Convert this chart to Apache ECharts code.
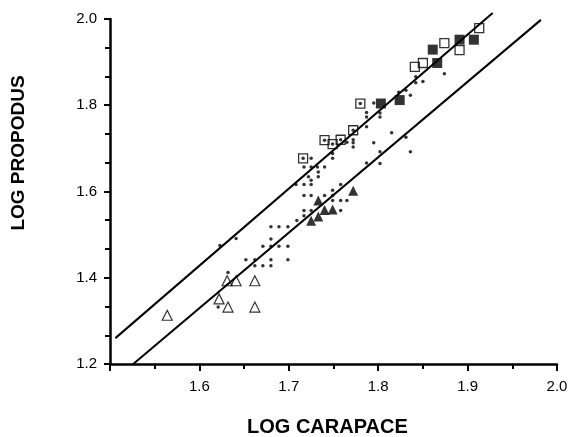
<!DOCTYPE html>
<html>
<head>
<meta charset="utf-8">
<script src="https://cdn.jsdelivr.net/npm/echarts@6/dist/echarts.min.js"></script>
<style>html,body{margin:0;padding:0;background:#fff;}#c{width:574px;height:437px;}</style>
</head>
<body>
<div id="c"></div>
<script>
// Tick labels
const xTickLabels = ['1.6', '1.7', '1.8', '1.9', '2.0'];
const yTickLabels = ['1.2', '1.4', '1.6', '1.8', '2.0'];
// Axis titles
const xTitle = 'LOG CARAPACE';
const yTitle = 'LOG PROPODUS';

// Regression lines (endpoints, data units)
const upperLine = [[1.506, 1.260], [1.928, 2.014]];
const lowerLine = [[1.526, 1.200], [1.982, 1.998]];

// Open squares
const openSquares = [[1.924, 2.004], [1.913, 1.979], [1.874, 1.944], [1.891, 1.928], [1.850, 1.898], [1.841, 1.889]];
// Open squares with a centre dot
const dottedSquares = [[1.780, 1.804], [1.772, 1.742], [1.758, 1.720], [1.749, 1.710], [1.740, 1.719], [1.716, 1.677]];
// Filled squares
const filledSquares = [[1.907, 1.952], [1.891, 1.952], [1.861, 1.929], [1.866, 1.898], [1.824, 1.812], [1.803, 1.804]];
// Filled triangles
const filledTriangles = [[1.772, 1.602], [1.733, 1.579], [1.740, 1.557], [1.749, 1.558], [1.733, 1.542], [1.725, 1.532]];
// Open triangles
const openTriangles = [[1.564, 1.313], [1.631, 1.393], [1.641, 1.393], [1.662, 1.393], [1.622, 1.351], [1.632, 1.332], [1.662, 1.332]];
// Small dots
const dots = [
  [1.874, 1.873], [1.842, 1.866], [1.850, 1.855], [1.842, 1.852], [1.831, 1.835], [1.823, 1.830], [1.836, 1.823],
  [1.795, 1.805], [1.787, 1.783], [1.787, 1.773], [1.802, 1.782], [1.802, 1.773], [1.787, 1.750],
  [1.772, 1.720], [1.772, 1.713], [1.772, 1.703], [1.765, 1.714], [1.749, 1.688], [1.749, 1.677],
  [1.725, 1.677], [1.717, 1.657], [1.725, 1.657], [1.732, 1.657], [1.740, 1.657], [1.733, 1.645], [1.733, 1.634], [1.722, 1.634],
  [1.815, 1.736], [1.831, 1.726], [1.795, 1.713], [1.802, 1.692], [1.836, 1.692], [1.787, 1.666], [1.802, 1.665],
  [1.725, 1.626], [1.708, 1.616], [1.717, 1.616], [1.725, 1.616], [1.717, 1.591], [1.725, 1.591], [1.740, 1.591], [1.749, 1.591],
  [1.758, 1.616], [1.749, 1.603], [1.749, 1.579], [1.758, 1.579], [1.765, 1.579],
  [1.758, 1.556], [1.717, 1.556], [1.725, 1.556], [1.709, 1.533], [1.717, 1.544],
  [1.680, 1.518], [1.689, 1.518], [1.699, 1.518], [1.680, 1.490],
  [1.671, 1.473], [1.680, 1.473], [1.689, 1.473], [1.699, 1.473],
  [1.652, 1.442], [1.662, 1.442], [1.680, 1.442], [1.699, 1.442],
  [1.662, 1.428], [1.671, 1.428], [1.680, 1.428],
  [1.623, 1.475], [1.641, 1.491], [1.632, 1.412], [1.621, 1.332]
];

const FONT = 'Liberation Sans, Arial, sans-serif';
const INK = '#000';
const chart = echarts.init(document.getElementById('c'), null, {renderer: 'canvas'});
const fmt = (labels) => (v) => {
  const s = v.toFixed(1);
  return labels.indexOf(s) >= 0 ? s : '';
};
chart.setOption({
  animation: false,
  backgroundColor: '#fff',
  grid: {left: 110, right: 17, top: 19, bottom: 73},
  xAxis: {
    type: 'value',
    min: 1.5, max: 2.0, interval: 0.1,
    axisLine: {show: true, onZero: false, lineStyle: {color: INK, width: 2.5}},
    axisTick: {show: true, length: 7, lineStyle: {color: INK, width: 2}},
    minorTick: {show: true, splitNumber: 2, length: 5, lineStyle: {color: INK, width: 2}},
    splitLine: {show: false},
    axisLabel: {margin: 15, color: '#000', fontSize: 15, fontFamily: FONT, formatter: fmt(xTickLabels)}
  },
  yAxis: {
    type: 'value',
    min: 1.2, max: 2.0, interval: 0.2,
    axisLine: {show: true, onZero: false, lineStyle: {color: INK, width: 2.5}},
    axisTick: {show: true, length: 6, lineStyle: {color: INK, width: 2}},
    minorTick: {show: true, splitNumber: 3, length: 5, lineStyle: {color: INK, width: 2}},
    splitLine: {show: false},
    axisLabel: {margin: 13, color: '#000', fontSize: 15, fontFamily: FONT, formatter: fmt(yTickLabels)}
  },
  graphic: [
    {type: 'text', left: 247, top: 417, style: {text: xTitle, fill: '#000', font: 'bold 20px ' + FONT}},
    {type: 'text', x: 19, y: 153, rotation: Math.PI / 2,
      style: {text: yTitle, fill: '#000', font: 'bold 19px ' + FONT, textAlign: 'center', textVerticalAlign: 'middle'}}
  ],
  series: [
    {type: 'line', data: upperLine, symbol: 'none', clip: false, lineStyle: {color: '#000', width: 2}, silent: true},
    {type: 'line', data: lowerLine, symbol: 'none', clip: false, lineStyle: {color: '#000', width: 2}, silent: true},
    {type: 'scatter', data: dots, symbol: 'circle', symbolSize: 3.5, itemStyle: {color: '#000'}},
    {type: 'scatter', data: openSquares, symbol: 'rect', symbolSize: 9, itemStyle: {color: 'rgba(255,255,255,0)', borderColor: '#000', borderWidth: 1.3}},
    {type: 'scatter', data: dottedSquares, symbol: 'rect', symbolSize: 9, itemStyle: {color: 'rgba(255,255,255,0)', borderColor: '#000', borderWidth: 1.3}},
    {type: 'scatter', data: dottedSquares, symbol: 'circle', symbolSize: 3.5, itemStyle: {color: '#000'}},
    {type: 'scatter', data: filledSquares, symbol: 'rect', symbolSize: 10, itemStyle: {color: '#000'}},
    {type: 'scatter', data: filledTriangles, symbol: 'triangle', symbolSize: 10, itemStyle: {color: '#000'}},
    {type: 'scatter', data: openTriangles, symbol: 'triangle', symbolSize: 10, itemStyle: {color: 'rgba(255,255,255,0)', borderColor: '#000', borderWidth: 1.2}}
  ]
});
</script>
</body>
</html>
